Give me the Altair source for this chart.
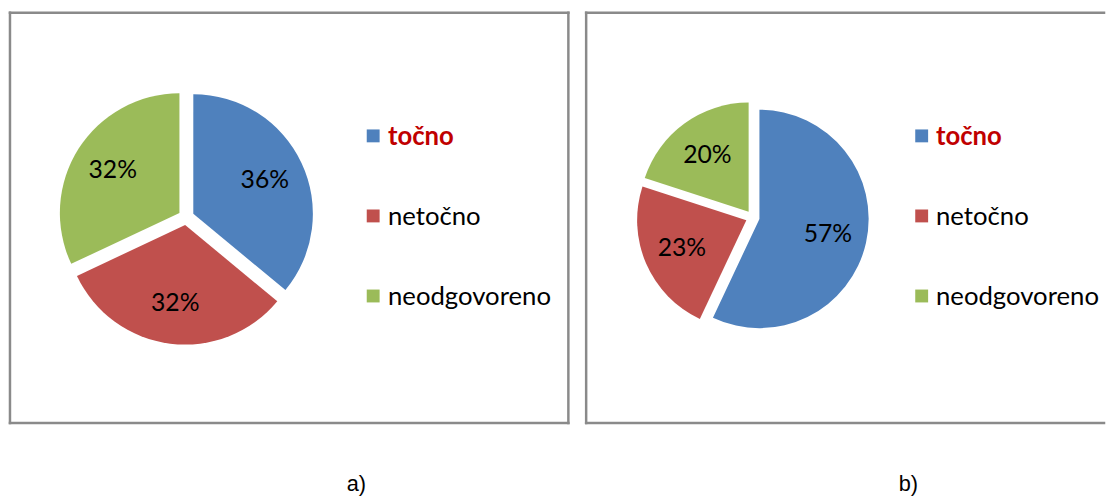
import altair as alt
import pandas as pd

categories = ["točno", "netočno", "neodgovoreno"]
values_a = [36, 32, 32]
values_b = [57, 23, 20]
panel_labels = ["a)", "b)"]
colors = ["#4F81BD", "#C0504D", "#9BBB59"]

BORDER = "#8a8a8a"


def panel(values, width, height, cx, cy, r, d, rl, sq_x, txt_x, leg_y0, leg_step,
          title, title_dx, right_edge):
    df = pd.DataFrame({"cat": categories, "v": values,
                       "idx": list(range(len(categories)))})
    base = alt.Chart(df).transform_joinaggregate(
        total="sum(v)"
    ).transform_window(
        cum="sum(v)", sort=[alt.SortField("idx", order="ascending")], frame=[None, 0]
    ).transform_calculate(
        fs="(datum.cum - datum.v) / datum.total",
        fe="datum.cum / datum.total",
        mid="(datum.cum - datum.v / 2) / datum.total * 2 * PI",
    ).transform_calculate(
        ox=f"{cx} + {d} * sin(datum.mid)",
        oy=f"{cy} - {d} * cos(datum.mid)",
        tx=f"{cx} + {d + rl} * sin(datum.mid)",
        ty=f"{cy} - {d + rl} * cos(datum.mid)",
        pct="format(datum.v / datum.total, '.0%')",
        ly=f"{leg_y0} + datum.idx * {leg_step}",
    )

    color = alt.Color("cat:N", scale=alt.Scale(domain=categories, range=colors),
                      legend=None)

    arcs = base.mark_arc(outerRadius=r).encode(
        x=alt.X("ox:Q", scale=None, axis=None, stack=False),
        y=alt.Y("oy:Q", scale=None, axis=None, stack=False),
        theta=alt.Theta("fs:Q", scale=alt.Scale(domain=[0, 1]), stack=False),
        theta2=alt.Theta2("fe:Q"),
        color=color,
    )

    labels = base.mark_text(font="Lato", fontSize=25, color="black",
                            align="center", baseline="middle").encode(
        x=alt.X("tx:Q", scale=None, axis=None, stack=False),
        y=alt.Y("ty:Q", scale=None, axis=None, stack=False),
        text="pct:N",
    )

    squares = base.mark_square(size=170, opacity=1).encode(
        x=alt.value(sq_x),
        y=alt.Y("ly:Q", scale=None, axis=None, stack=False),
        color=color,
    )

    leg_first = base.transform_filter("datum.idx == 0").mark_text(
        font="Lato", fontSize=26, fontWeight="bold", color="#C00000",
        align="left", baseline="alphabetic", dy=9,
    ).encode(
        x=alt.value(txt_x),
        y=alt.Y("ly:Q", scale=None, axis=None, stack=False),
        text="cat:N",
    )
    leg_rest = base.transform_filter("datum.idx > 0").mark_text(
        font="Lato", fontSize=26, color="black",
        align="left", baseline="alphabetic", dy=9,
    ).encode(
        x=alt.value(txt_x),
        y=alt.Y("ly:Q", scale=None, axis=None, stack=False),
        text="cat:N",
    )

    one = pd.DataFrame({"k": [0]})
    rule_props = dict(color=BORDER, strokeWidth=2.5, strokeCap="square")
    left = alt.Chart(one).mark_rule(**rule_props).encode(
        x=alt.value(0), y=alt.value(0), y2=alt.value(height))
    top = alt.Chart(one).mark_rule(**rule_props).encode(
        x=alt.value(0), x2=alt.value(width), y=alt.value(0))
    bottom = alt.Chart(one).mark_rule(**rule_props).encode(
        x=alt.value(0), x2=alt.value(width), y=alt.value(height))
    layers = [left, top, bottom]
    if right_edge:
        right = alt.Chart(one).mark_rule(**rule_props).encode(
            x=alt.value(width), y=alt.value(0), y2=alt.value(height))
        layers.append(right)

    return alt.layer(arcs, labels, squares, leg_first, leg_rest, *layers).properties(
        width=width,
        height=height,
        title=alt.TitleParams(
            title, orient="bottom", anchor="middle", dx=title_dx, offset=67,
            font="Liberation Sans", fontSize=22, fontWeight="normal",
            color="black", baseline="alphabetic",
        ),
    )


pa = panel(values_a, 565, 415, 178.25, 206.75, 121, 8, 80,
           367.5, 382.5, 124.5, 81, panel_labels[0], 68, True)
pb = panel(values_b, 524, 415, 168.5, 207.0, 110.5, 7, 71,
           339.5, 354, 124.5, 81, panel_labels[1], 64, False)

chart = alt.hconcat(pa, pb, spacing=14).properties(
    padding={"left": 0, "top": 0, "right": 0, "bottom": 0},
    background="white",
).configure_view(stroke=None)

chart.save("out.html", embed_options={"renderer": "svg", "actions": False})
